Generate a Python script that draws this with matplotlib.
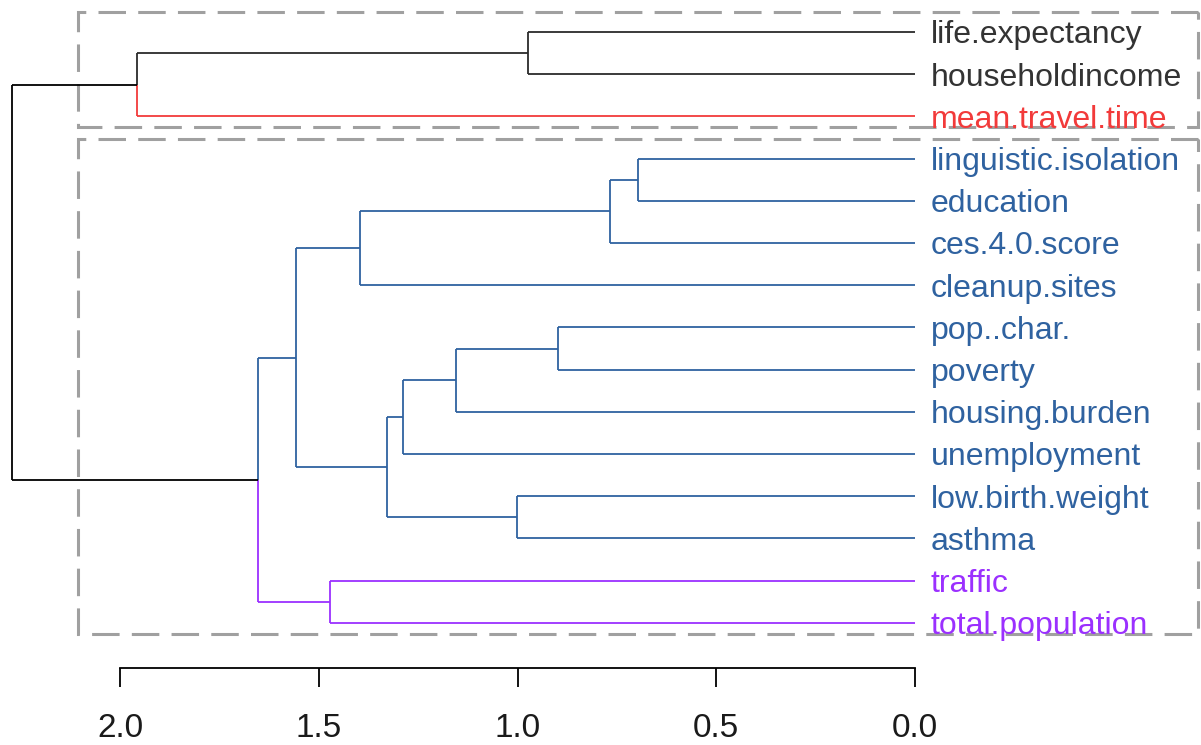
import matplotlib
matplotlib.use("Agg")
import matplotlib.pyplot as plt
from matplotlib.patches import Rectangle

plt.rcParams['font.family'] = ['Liberation Sans', 'DejaVu Sans']

# ---- data ----
labels = ["life.expectancy", "householdincome", "mean.travel.time",
          "linguistic.isolation", "education", "ces.4.0.score", "cleanup.sites",
          "pop..char.", "poverty", "housing.burden", "unemployment",
          "low.birth.weight", "asthma", "traffic", "total.population"]
# R-style merges: negative = leaf (1-based index), positive = previous merge (1-based)
merge_left = [-1, 1, -4, 3, 4, -8, 6, 7, -12, 8, 5, -14, 11, 2]
merge_right = [-2, -3, -5, -6, -7, -9, -10, -11, -13, 9, 10, -15, 12, 13]
merge_height = [0.974, 1.957, 0.697, 0.767, 1.396, 0.898, 1.155, 1.288,
                1.001, 1.328, 1.557, 1.472, 1.653, 2.272]
# cluster of each leaf
leaf_cluster = [0, 0, 1, 2, 2, 2, 2, 2, 2, 2, 2, 2, 2, 3, 3]
cluster_colors = ["#2b2b2b", "#F23A3A", "#2F62A0", "#9B30FF"]
label_colors = ["#333333", "#F23A3A", "#2F62A0", "#9B30FF"]
# rectangle groups (leaf index ranges)
rect_groups = [(0, 2), (3, 14)]
xticks = [2.0, 1.5, 1.0, 0.5, 0.0]

# ---- figure ----
W, H = 1201, 745
fig = plt.figure(figsize=(W / 100, H / 100), dpi=100)
ax = fig.add_axes([120 / W, 1 - 632 / H, (915 - 120) / W, (632 - 12) / H])
step = 42.2
ax.set_xlim(2.0, 0.0)
ax.set_ylim(600 / step, -20 / step)

node_y = {}
node_h = {}
node_leaves = {}
for i in range(len(labels)):
    node_y[-(i + 1)] = i
    node_h[-(i + 1)] = 0.0
    node_leaves[-(i + 1)] = [i]
for k in range(len(merge_height)):
    a, b = merge_left[k], merge_right[k]
    node_y[k + 1] = (node_y[a] + node_y[b]) / 2
    node_h[k + 1] = merge_height[k]
    node_leaves[k + 1] = node_leaves[a] + node_leaves[b]


def node_color(n):
    cl = {leaf_cluster[i] for i in node_leaves[n]}
    if len(cl) == 1:
        return cluster_colors[cl.pop()]
    return "#000000"


lw = 1.3
for k in range(len(merge_height)):
    p = k + 1
    for c in (merge_left[k], merge_right[k]):
        col = node_color(c)
        ax.plot([node_h[p], node_h[p]], [node_y[p], node_y[c]], color=col,
                lw=lw, clip_on=False, solid_capstyle='butt')
        ax.plot([node_h[p], node_h[c]], [node_y[c], node_y[c]], color=col,
                lw=lw, clip_on=False, solid_capstyle='butt')

# labels
for i, lab in enumerate(labels):
    ax.text(-0.04, i, lab, color=label_colors[leaf_cluster[i]], fontsize=23,
            va='center_baseline', ha='left', clip_on=False)

# dashed rectangles
for (a, b) in rect_groups:
    x0 = 2.0 + 42 / 397.5
    x1 = -(1198 - 915) / 397.5
    y0 = a - 0.47
    y1 = b + 0.26
    r = Rectangle((x1, y0), x0 - x1, y1 - y0, fill=False, edgecolor="#A0A0A0",
                  lw=2.2, linestyle=(0, (9, 4)), clip_on=False)
    ax.add_patch(r)

# axis
for s in ["top", "right", "left"]:
    ax.spines[s].set_visible(False)
ax.spines["bottom"].set_position(("outward", 36 * 0.72))
ax.spines["bottom"].set_bounds(2.0, 0.0)
ax.spines["bottom"].set_linewidth(1.3)
ax.set_yticks([])
ax.set_xticks(xticks)
ax.set_xticklabels([f"{t:.1f}" for t in xticks])
ax.tick_params(axis='x', direction='out', length=13.7, width=1.3, pad=19,
               labelsize=24, colors="#000000", labelcolor="#1a1a1a")
ax.patch.set_alpha(0)

fig.savefig("out.png", dpi=100)
